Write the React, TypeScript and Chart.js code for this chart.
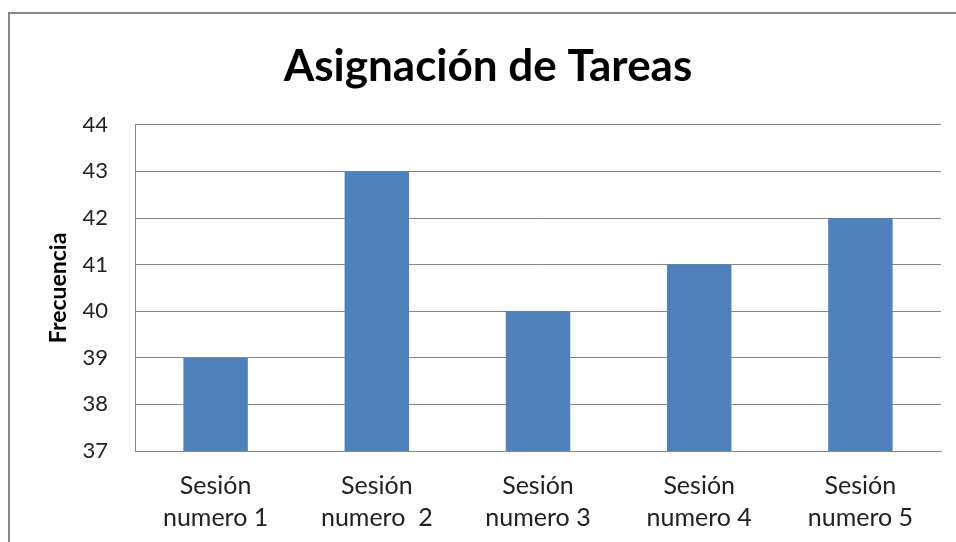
import React, { useEffect, useRef } from "react";
import { Chart, registerables } from "chart.js";

Chart.register(...registerables);

const titleText = "Asignación de Tareas";
const yAxisTitle = "Frecuencia";
const categories: string[][] = [
  ["Sesión", "numero 1"],
  ["Sesión", "numero  2"],
  ["Sesión", "numero 3"],
  ["Sesión", "numero 4"],
  ["Sesión", "numero 5"],
];
const values: number[] = [39, 43, 40, 41, 42];
const yMin = 37;
const yMax = 44;

const FONT = "Lato, 'Open Sans', sans-serif";

const framePlugin = {
  id: "frame",
  beforeDraw(chart: any) {
    const ctx = chart.ctx;
    ctx.save();
    ctx.fillStyle = "#ffffff";
    ctx.fillRect(0, 0, chart.width, chart.height);
    ctx.strokeStyle = "#878787";
    ctx.lineWidth = 2;
    ctx.strokeRect(9, 13, 3000, 3000);
    ctx.restore();
  },
};

export default function App() {
  const ref = useRef<HTMLCanvasElement | null>(null);
  useEffect(() => {
    if (!ref.current) return;
    const chart = new Chart(ref.current, {
      type: "bar",
      data: {
        labels: categories,
        datasets: [
          {
            data: values,
            backgroundColor: "#4F81BD",
            borderWidth: 0,
            barPercentage: 0.4,
            categoryPercentage: 1,
          },
        ],
      },
      options: {
        responsive: false,
        animation: false,
        layout: { padding: { left: 35, right: 15, top: 0, bottom: 0 } },
        plugins: {
          legend: { display: false },
          tooltip: { enabled: false },
          title: {
            display: true,
            text: titleText,
            color: "#000000",
            font: { family: FONT, size: 44, weight: "bold", lineHeight: 1.2 },
            padding: { top: 40, bottom: 32 },
          },
        },
        scales: {
          x: {
            grid: { display: false, drawTicks: false },
            border: { display: true, color: "#878787", width: 1 },
            ticks: {
              color: "#222222",
              font: { family: FONT, size: 25, lineHeight: 1.28 },
              padding: 19,
              maxRotation: 0,
            },
            afterFit(scale: any) {
              scale.height = 91;
            },
          },
          y: {
            min: yMin,
            max: yMax,
            grid: { color: "#878787", lineWidth: 1, drawTicks: false },
            border: { display: true, color: "#878787", width: 1 },
            ticks: {
              stepSize: 1,
              color: "#222222",
              font: { family: FONT, size: 22 },
              padding: 27,
            },
            title: {
              display: true,
              text: yAxisTitle,
              color: "#000000",
              font: { family: FONT, size: 23, weight: "bold", lineHeight: 1.2 },
              padding: { top: 10, bottom: 0 },
            },
            afterFit(scale: any) {
              scale.width = 100;
            },
          },
        },
      },
      plugins: [framePlugin],
    });
    return () => chart.destroy();
  }, []);
  return (
    <div style={{ position: "fixed", left: 0, top: 0, width: 956, height: 542 }}>
      <canvas ref={ref} width={956} height={542} />
    </div>
  );
}
